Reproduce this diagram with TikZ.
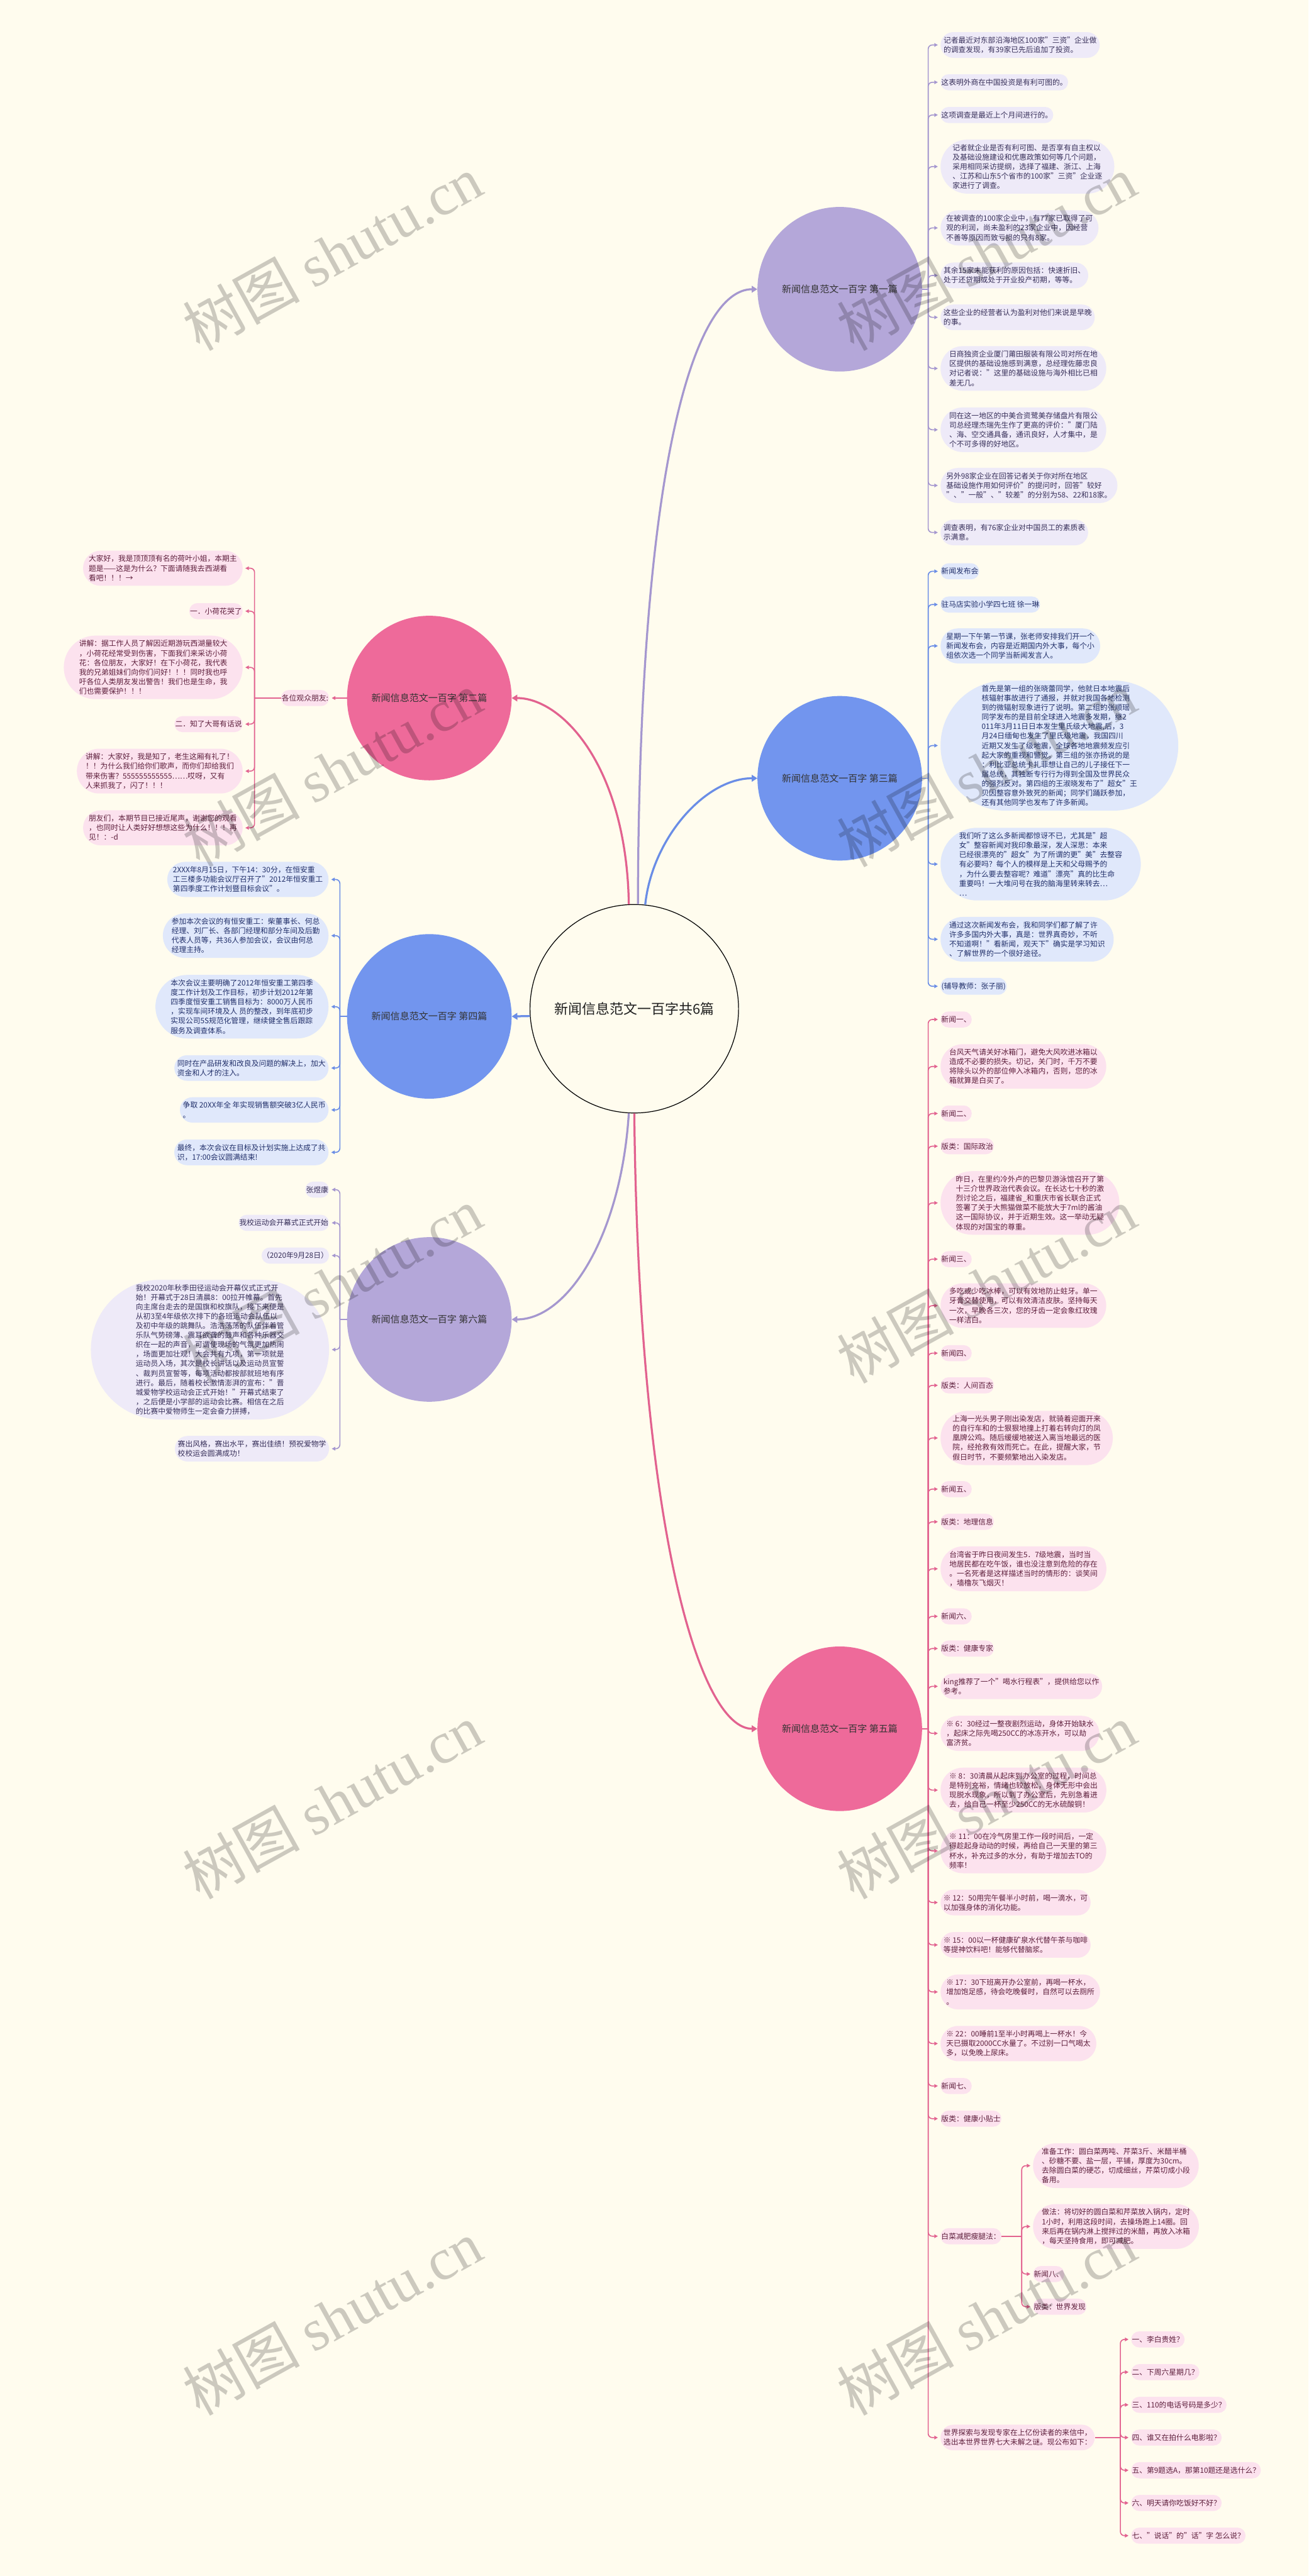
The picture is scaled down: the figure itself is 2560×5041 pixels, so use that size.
\documentclass[tikz,border=0pt]{standalone}
\usepackage{fontspec}
\setmainfont{Noto Sans CJK SC}
\newfontfamily\wmlatin{Liberation Serif}
\usetikzlibrary{shapes.misc,arrows.meta}
\definecolor{bgc}{HTML}{FFFCEE}
\definecolor{purC}{HTML}{B4A7D9}
\definecolor{pinkC}{HTML}{EE6A9A}
\definecolor{blueC}{HTML}{7295EE}
\definecolor{purF}{HTML}{EEEAF8}
\definecolor{pinkF}{HTML}{FCE2EE}
\definecolor{blueF}{HTML}{E0E8FB}
\definecolor{purL}{HTML}{A597CF}
\definecolor{pinkL}{HTML}{E2628F}
\definecolor{blueL}{HTML}{6A8DE6}
\definecolor{purT}{HTML}{38305A}
\definecolor{pinkT}{HTML}{5E1F3C}
\definecolor{blueT}{HTML}{22306A}
\definecolor{circT}{HTML}{333333}
\begin{document}
\begin{tikzpicture}[x=1pt,y=-1pt,
  bub/.style={rounded rectangle, inner xsep=0pt, inner ysep=9pt, align=left,
     font=\fontsize{14.5}{18.6}\selectfont},
  purbub/.style={bub, fill=purF, text=purT},
  pinkbub/.style={bub, fill=pinkF, text=pinkT},
  bluebub/.style={bub, fill=blueF, text=blueT},
  branch/.style={circle, minimum size=322pt, inner sep=0pt, text=circT,
     font=\fontsize{18.5}{22}\selectfont},
  arrtip/.style={-{Triangle[length=7pt,width=7pt]}, shorten >=5pt},
  purln/.style={draw=purL, line width=2pt},
  pinkln/.style={draw=pinkL, line width=2pt},
  blueln/.style={draw=blueL, line width=2pt},
  purarr/.style={purln, rounded corners=8pt, arrtip},
  pinkarr/.style={pinkln, rounded corners=8pt, arrtip},
  bluearr/.style={blueln, rounded corners=8pt, arrtip},
  bigtip/.style={-{Triangle[length=11pt,width=13pt]}},
  purmain/.style={draw=purL, line width=4pt, bigtip},
  pinkmain/.style={draw=pinkL, line width=4pt, bigtip},
  bluemain/.style={draw=blueL, line width=4pt, bigtip},
  wmark/.style={rotate=29, text=black, text opacity=0.2, font=\fontsize{115}{115}\selectfont}
]
\useasboundingbox (0,0) rectangle (2560,5041);
\fill[bgc] (0,0) rectangle (2560,5041);

% ---------- center and branch circles ----------
\node[circle, draw=black, line width=1.5pt, fill=bgc, minimum size=408pt, inner sep=0pt,
  font=\fontsize{27}{30}\selectfont, text=black!88] (c) at (1241,1974) {新闻信息范文一百字共6篇};
\node[branch, fill=purC] (b1) at (1643,566) {新闻信息范文一百字 第一篇};
\node[branch, fill=blueC] (b3) at (1643,1523) {新闻信息范文一百字 第三篇};
\node[branch, fill=pinkC] (b5) at (1643,3383) {新闻信息范文一百字 第五篇};
\node[branch, fill=pinkC] (b2) at (840,1366) {新闻信息范文一百字 第二篇};
\node[branch, fill=blueC] (b4) at (840,1989) {新闻信息范文一百字 第四篇};
\node[branch, fill=purC] (b6) at (840,2582) {新闻信息范文一百字 第六篇};

\draw[purmain] (c.88) .. controls (1250,900) and (1360,566) .. (b1.west);
\draw[pinkmain] (c.93) .. controls (1226,1500) and (1100,1366) .. (b2.east);
\draw[bluemain] (c.84) .. controls (1276,1640) and (1380,1523) .. (b3.west);
\draw[bluemain] (c.184) -- (b4.east);
\draw[pinkmain] (c.270) .. controls (1250,3000) and (1370,3383) .. (b5.west);
\draw[purmain] (c.267) .. controls (1215,2420) and (1110,2582) .. (b6.east);

% ---------- 第一篇 ----------
\node[purbub, anchor=west] (p1) at (1840,88) {记者最近对东部沿海地区100家"三资"企业做\\的调查发现，有39家已先后追加了投资。};
\node[purbub, anchor=west] (p2) at (1840,161) {这表明外商在中国投资是有利可图的。};
\node[purbub, anchor=west] (p3) at (1840,225) {这项调查是最近上个月间进行的。};
\node[purbub, anchor=west] (p4) at (1840,326) {记者就企业是否有利可图、是否享有自主权以\\及基础设施建设和优惠政策如何等几个问题，\\采用相同采访提纲，选择了福建、浙江、上海\\、江苏和山东5个省市的100家"三资"企业逐\\家进行了调查。};
\node[purbub, anchor=west] (p5) at (1840,446) {在被调查的100家企业中，有77家已取得了可\\观的利润，尚未盈利的23家企业中，因经营\\不善等原因而致亏损的只有8家。};
\node[purbub, anchor=west] (p6) at (1840,539) {其余15家未能获利的原因包括：快速折旧、\\处于还贷期或处于开业投产初期，等等。};
\node[purbub, anchor=west] (p7) at (1840,621) {这些企业的经营者认为盈利对他们来说是早晚\\的事。};
\node[purbub, anchor=west] (p8) at (1840,721) {日商独资企业厦门莆田服装有限公司对所在地\\区提供的基础设施感到满意，总经理佐藤忠良\\对记者说："这里的基础设施与海外相比已相\\差无几。};
\node[purbub, anchor=west] (p9) at (1840,841) {同在这一地区的中美合资鹭美存储盘片有限公\\司总经理杰瑞先生作了更高的评价："厦门陆\\、海、空交通具备，通讯良好，人才集中，是\\个不可多得的好地区。};
\node[purbub, anchor=west] (p10) at (1840,950) {另外98家企业在回答记者关于你对所在地区\\基础设施作用如何评价"的提问时，回答"较好\\"、"一般"、"较差"的分别为58、22和18家。};
\node[purbub, anchor=west] (p11) at (1840,1042) {调查表明，有76家企业对中国员工的素质表\\示满意。};
\coordinate (J1) at (1816,566);
\draw[purln] (b1.east) -- (J1);
\foreach \i in {1,...,11} \draw[purarr] (J1) |- (p\i.west);

% ---------- 第三篇 ----------
\node[bluebub, anchor=west] (t1) at (1840,1118) {新闻发布会};
\node[bluebub, anchor=west] (t2) at (1840,1183) {驻马店实验小学四七班 徐一琳};
\node[bluebub, anchor=west] (t3) at (1840,1264) {星期一下午第一节课，张老师安排我们开一个\\新闻发布会，内容是近期国内外大事，每个小\\组依次选一个同学当新闻发言人。};
\node[bluebub, anchor=west] (t4) at (1840,1459) {首先是第一组的张晓蕾同学，他就日本地震后\\核辐射事故进行了通报，并就对我国各地检测\\到的微辐射现象进行了说明。第二组的张顺瑶\\同学发布的是目前全球进入地震多发期，继2\\011年3月11日日本发生里氏级大地震,后，3\\月24日缅甸也发生了里氏级地震，我国四川\\近期又发生了级地震，全球各地地震频发应引\\起大家的重视和警觉。第三组的张亦扬说的是\\：利比亚总统卡扎菲想让自己的儿子接任下一\\届总统，其独断专行行为得到全国及世界民众\\的强烈反对。第四组的王淑晓发布了"超女"王\\贝因整容意外致死的新闻；同学们踊跃参加，\\还有其他同学也发布了许多新闻。};
\node[bluebub, anchor=west] (t5) at (1840,1691) {我们听了这么多新闻都惊讶不已，尤其是"超\\女"整容新闻对我印象最深，发人深思：本来\\已经很漂亮的"超女"为了所谓的更"美"去整容\\有必要吗？每个人的模样是上天和父母赐予的\\，为什么要去整容呢？难道"漂亮"真的比生命\\重要吗！一大堆问号在我的脑海里转来转去…\\…};
\node[bluebub, anchor=west] (t6) at (1840,1838) {通过这次新闻发布会，我和同学们都了解了许\\许多多国内外大事，真是：世界真奇妙，不听\\不知道啊！"看新闻，观天下"确实是学习知识\\、了解世界的一个很好途径。};
\node[bluebub, anchor=west] (t7) at (1840,1930) {(辅导教师：张子丽)};
\coordinate (J3) at (1816,1523);
\draw[blueln] (b3.east) -- (J3);
\foreach \i in {1,...,7} \draw[bluearr] (J3) |- (t\i.west);

% ---------- 第二篇 ----------
\node[pinkbub, anchor=east] (e0) at (644,1366) {各位观众朋友:};
\draw[pinkln, line width=2.5pt, arrtip] (b2.west) -- (e0.east);
\node[pinkbub, anchor=east] (e1) at (475,1112) {大家好，我是顶顶顶有名的荷叶小姐，本期主\\题是——这是为什么？下面请随我去西湖看\\看吧！！！→};
\node[pinkbub, anchor=east] (e2) at (475,1196) {一．小荷花哭了};
\node[pinkbub, anchor=east] (e3) at (475,1306) {讲解：据工作人员了解因近期游玩西湖量较大\\，小荷花经常受到伤害，下面我们来采访小荷\\花：各位朋友，大家好！在下小荷花，我代表\\我的兄弟姐妹们向你们问好！！！同时我也呼\\吁各位人类朋友发出警告！我们也是生命，我\\们也需要保护！！！};
\node[pinkbub, anchor=east] (e4) at (475,1417) {二．知了大哥有话说};
\node[pinkbub, anchor=east] (e5) at (475,1509) {讲解：大家好，我是知了，老生这厢有礼了！\\！！为什么我们给你们歌声，而你们却给我们\\带来伤害？555555555555……哎呀，又有\\人来抓我了，闪了！！！};
\node[pinkbub, anchor=east] (e6) at (475,1620) {朋友们，本期节目已接近尾声，谢谢您的观看\\，也同时让人类好好想想这些为什么！！！再\\见！：-d};
\coordinate (J2) at (498,1366);
\draw[pinkln] (e0.west) -- (J2);
\foreach \i in {1,...,6} \draw[pinkarr] (J2) |- (e\i.east);

% ---------- 第四篇 ----------
\node[bluebub, anchor=east] (f1) at (643,1721) {2XXX年8月15日，下午14：30分，在恒安重\\工三楼多功能会议厅召开了"2012年恒安重工\\第四季度工作计划暨目标会议"。};
\node[bluebub, anchor=east] (f2) at (643,1831) {参加本次会议的有恒安重工：柴董事长、何总\\经理、刘厂长、各部门经理和部分车间及后勤\\代表人员等，共36人参加会议，会议由何总\\经理主持。};
\node[bluebub, anchor=east] (f3) at (643,1970) {本次会议主要明确了2012年恒安重工第四季\\度工作计划及工作目标，初步计划2012年第\\四季度恒安重工销售目标为：8000万人民币\\，实现车间环境及人 员的整改，到年底初步\\实现公司5S规范化管理，继续健全售后跟踪\\服务及调查体系。};
\node[bluebub, anchor=east] (f4) at (643,2090) {同时在产品研发和改良及问题的解决上，加大\\资金和人才的注入。};
\node[bluebub, anchor=east] (f5) at (643,2172) {争取 20XX年全 年实现销售额突破3亿人民币\\。};
\node[bluebub, anchor=east] (f6) at (643,2255) {最终，本次会议在目标及计划实施上达成了共\\识，17:00会议圆满结束!};
\coordinate (J4) at (665,1989);
\draw[blueln] (b4.west) -- (J4);
\foreach \i in {1,...,6} \draw[bluearr] (J4) |- (f\i.east);

% ---------- 第六篇 ----------
\node[purbub, anchor=east] (s1) at (644,2328) {张煜康};
\node[purbub, anchor=east] (s2) at (644,2393) {我校运动会开幕式正式开始};
\node[purbub, anchor=east] (s3) at (644,2457) {（2020年9月28日）};
\node[purbub, anchor=east] (s4) at (644,2641) {我校2020年秋季田径运动会开幕仪式正式开\\始！开幕式于28日清晨8：00拉开帷幕。首先\\向主席台走去的是国旗和校旗队，接下来便是\\从初3至4年级依次排下的各班运动会队伍以\\及初中年级的跳舞队。浩浩荡荡的队伍伴着管\\乐队气势磅薄、震耳欲聋的鼓声和各种乐器交\\织在一起的声音，可谓使现场的气氛更加热闹\\，场面更加壮观！大会共有九项，第一项就是\\运动员入场，其次是校长讲话以及运动员宣誓\\、裁判员宣誓等，每项活动都按部就班地有序\\进行。最后，随着校长激情澎湃的宣布："晋\\城爱物学校运动会正式开始！"开幕式结束了\\，之后便是小学部的运动会比赛。相信在之后\\的比赛中爱物师生一定会奋力拼搏，};
\node[purbub, anchor=east] (s5) at (644,2835) {赛出风格，赛出水平，赛出佳绩！预祝爱物学\\校校运会圆满成功！};
\coordinate (J6) at (665,2582);
\draw[purln] (b6.west) -- (J6);
\foreach \i in {1,...,5} \draw[purarr] (J6) |- (s\i.east);

% ---------- 第五篇 ----------
\node[pinkbub, anchor=west] (k1) at (1840,1995) {新闻一、};
\node[pinkbub, anchor=west] (k2) at (1840,2087) {台风天气请关好冰箱门，避免大风吹进冰箱以\\造成不必要的损失。切记，关门时，千万不要\\将除头以外的部位伸入冰箱内，否则，您的冰\\箱就算是白买了。};
\node[pinkbub, anchor=west] (k3) at (1840,2179) {新闻二、};
\node[pinkbub, anchor=west] (k4) at (1840,2243) {版类：国际政治};
\node[pinkbub, anchor=west] (k5) at (1840,2354) {昨日，在里约冷外卢的巴黎贝游泳馆召开了第\\十三介世界政治代表会议。在长达七十秒的激\\烈讨论之后，福建省\_和重庆市省长联合正式\\签署了关于大熊猫做菜不能放大于7ml的酱油\\这一国际协议，并于近期生效。这一举动无疑\\体现的对国宝的尊重。};
\node[pinkbub, anchor=west] (k6) at (1840,2464) {新闻三、};
\node[pinkbub, anchor=west] (k7) at (1840,2555) {多吃或少吃冰棒，可以有效地防止蛀牙。单一\\牙膏交替使用，可以有效清洁皮肤。坚持每天\\一次，早晚各三次，您的牙齿一定会象红玫瑰\\一样洁白。};
\node[pinkbub, anchor=west] (k8) at (1840,2648) {新闻四、};
\node[pinkbub, anchor=west] (k9) at (1840,2711) {版类：人间百态};
\node[pinkbub, anchor=west] (k10) at (1840,2814) {上海一光头男子刚出染发店，就骑着迎面开来\\的自行车和的士狠狠地撞上打着右转向灯的凤\\凰牌公鸡。随后缓缓地被送入离当地最远的医\\院，经抢救有效而死亡。在此，提醒大家，节\\假日时节，不要频繁地出入染发店。};
\node[pinkbub, anchor=west] (k11) at (1840,2914) {新闻五、};
\node[pinkbub, anchor=west] (k12) at (1840,2978) {版类：地理信息};
\node[pinkbub, anchor=west] (k13) at (1840,3070) {台湾省于昨日夜间发生5．7级地震，当时当\\地居民都在吃午饭，谁也没注意到危险的存在\\。一名死者是这样描述当时的情形的：谈笑间\\，墙橹灰飞烟灭！};
\node[pinkbub, anchor=west] (k14) at (1840,3163) {新闻六、};
\node[pinkbub, anchor=west] (k15) at (1840,3226) {版类：健康专家};
\node[pinkbub, anchor=west] (k16) at (1840,3300) {king推荐了一个"喝水行程表"，提供给您以作\\参考。};
\node[pinkbub, anchor=west] (k17) at (1840,3392) {※ 6：30经过一整夜剧烈运动，身体开始缺水\\，起床之际先喝250CC的冰冻开水，可以劫\\富济贫。};
\node[pinkbub, anchor=west] (k18) at (1840,3503) {※ 8：30清晨从起床到办公室的过程，时间总\\是特别充裕，情绪也较放松，身体无形中会出\\现脱水现象，所以到了办公室后，先别急着进\\去，给自己一杯至少250CC的无水硫酸铜！};
\node[pinkbub, anchor=west] (k19) at (1840,3622) {※ 11：00在冷气房里工作一段时间后，一定\\得趁起身动动的时候，再给自己一天里的第三\\杯水，补充过多的水分，有助于增加去TO的\\频率！};
\node[pinkbub, anchor=west] (k20) at (1840,3723) {※ 12：50用完午餐半小时前，喝一滴水，可\\以加强身体的消化功能。};
\node[pinkbub, anchor=west] (k21) at (1840,3806) {※ 15：00以一杯健康矿泉水代替午茶与咖啡\\等提神饮料吧！能够代替脑浆。};
\node[pinkbub, anchor=west] (k22) at (1840,3898) {※ 17：30下班离开办公室前，再喝一杯水，\\增加饱足感，待会吃晚餐时，自然可以去厕所\\。};
\node[pinkbub, anchor=west] (k23) at (1840,3999) {※ 22：00睡前1至半小时再喝上一杯水！今\\天已摄取2000CC水量了。不过别一口气喝太\\多，以免晚上尿床。};
\node[pinkbub, anchor=west] (k24) at (1840,4082) {新闻七、};
\node[pinkbub, anchor=west] (k25) at (1840,4146) {版类：健康小贴士};
\node[pinkbub, anchor=west] (k26) at (1840,4376) {白菜减肥瘦腿法：};
\node[pinkbub, anchor=west] (k27) at (1840,4770) {世界探索与发现专家在上亿份读者的来信中，\\选出本世界世界七大未解之谜。现公布如下：};
\coordinate (J5) at (1816,3383);
\draw[pinkln] (b5.east) -- (J5);
\foreach \i in {1,...,27} \draw[pinkarr] (J5) |- (k\i.west);

\node[pinkbub, anchor=west] (ka) at (2021,4238) {准备工作：圆白菜两吨、芹菜3斤、米醋半桶\\、砂糖不要、盐一层，平铺，厚度为30cm。\\去除圆白菜的硬芯，切成细丝，芹菜切成小段\\备用。};
\node[pinkbub, anchor=west] (kb) at (2021,4357) {做法：将切好的圆白菜和芹菜放入锅内，定时\\1小时，利用这段时间，去操场跑上14圈。回\\来后再在锅内淋上搅拌过的米醋，再放入冰箱\\，每天坚持食用，即可减肥。};
\node[pinkbub, anchor=west] (kc) at (2021,4450) {新闻八、};
\node[pinkbub, anchor=west] (kd) at (2021,4514) {版类：世界发现};
\coordinate (J26) at (1999,4376);
\draw[pinkln] (k26.east) -- (J26);
\foreach \n in {ka,kb,kc,kd} \draw[pinkarr] (J26) |- (\n.west);

\node[pinkbub, anchor=west] (q1) at (2213,4578) {一、李白贵姓？};
\node[pinkbub, anchor=west] (q2) at (2213,4642) {二、下周六星期几？};
\node[pinkbub, anchor=west] (q3) at (2213,4706) {三、110的电话号码是多少？};
\node[pinkbub, anchor=west] (q4) at (2213,4770) {四、谁又在拍什么电影啦？};
\node[pinkbub, anchor=west] (q5) at (2213,4834) {五、第9题选A，那第10题还是选什么？};
\node[pinkbub, anchor=west] (q6) at (2213,4898) {六、明天请你吃饭好不好？};
\node[pinkbub, anchor=west] (q7) at (2213,4962) {七、"说话"的"话"字 怎么说？};
\coordinate (J27) at (2192,4770);
\draw[pinkln] (k27.east) -- (J27);
\foreach \i in {1,...,7} \draw[pinkarr] (J27) |- (q\i.west);

% ---------- watermarks ----------
\foreach \wx in {650,1930} {
  \foreach \wy in {495,1505,2515,3525,4535} {
    \node[wmark] at (\wx,\wy) {树图 {\wmlatin shutu.cn}};
  }
}
\end{tikzpicture}
\end{document}
